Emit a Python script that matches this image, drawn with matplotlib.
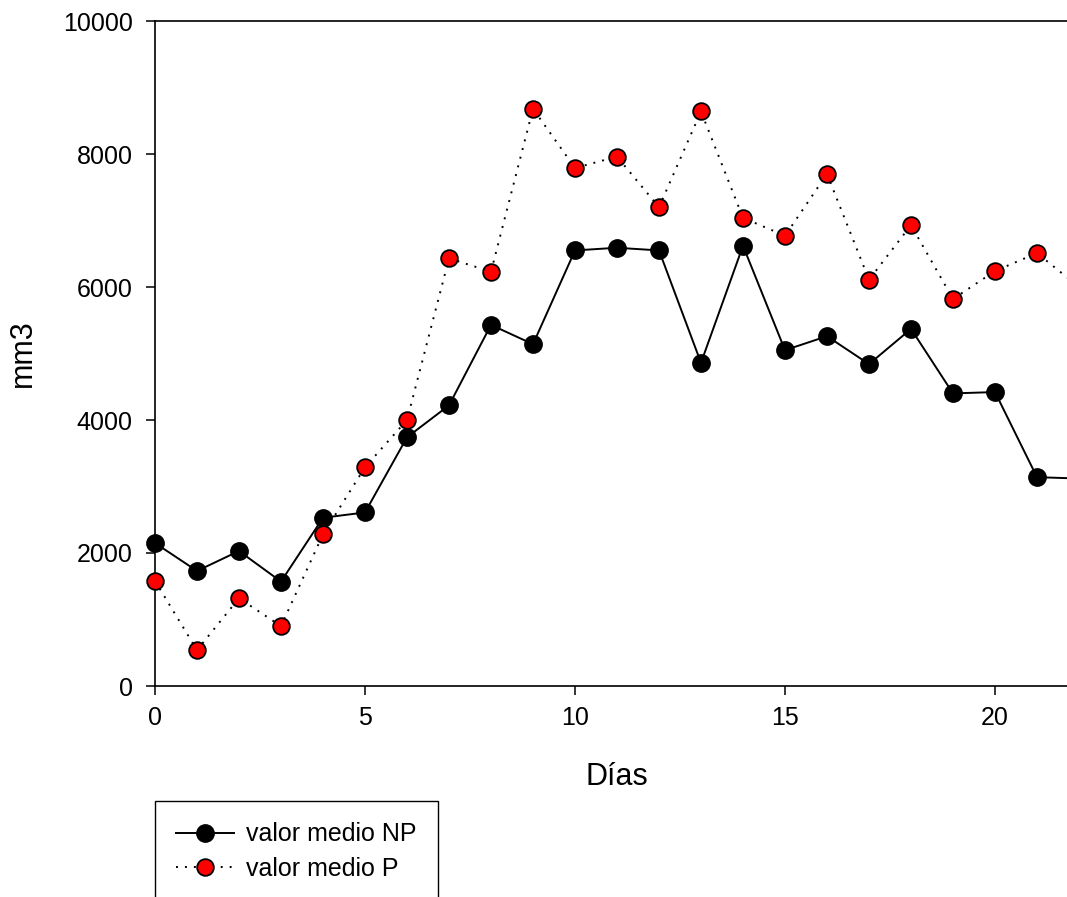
import matplotlib
matplotlib.use('Agg')
import matplotlib.pyplot as plt

plt.rcParams['font.family'] = ['Liberation Sans', 'DejaVu Sans']

dias = list(range(23))
medio_np = [2150, 1730, 2030, 1570, 2530, 2610, 3740, 4220, 5430, 5140,
            6550, 6590, 6550, 4860, 6620, 5050, 5260, 4840, 5370, 4400,
            4420, 3140, 3120]
medio_p = [1580, 540, 1320, 900, 2280, 3290, 4000, 6430, 6230, 8680,
           7790, 7960, 7200, 8640, 7040, 6770, 7700, 6110, 6930, 5820,
           6240, 6510, 6000]

y_ticks = [0, 2000, 4000, 6000, 8000, 10000]
x_ticks = [0, 5, 10, 15, 20]

W, H = 1067, 897
fig = plt.figure(figsize=(W / 100, H / 100), dpi=100)
# axes runs past the right edge of the figure, like the original
ax = fig.add_axes([155 / W, 1 - 686 / H, 924 / W, 665 / H])

ax.plot(dias, medio_np, color='black', lw=1.4, marker='o', markersize=12.5,
        markerfacecolor='black', markeredgecolor='black', markeredgewidth=1,
        label='valor medio NP', clip_on=False, zorder=3)
ax.plot(dias, medio_p, color='black', lw=1.4, linestyle=(0, (1.0, 3.6)),
        marker='o', markersize=12, markerfacecolor='#ff0000',
        markeredgecolor='black', markeredgewidth=1.3,
        label='valor medio P', clip_on=False, zorder=3)

ax.set_xlim(0, 22)
ax.set_ylim(0, 10000)
ax.set_xticks(x_ticks)
ax.set_yticks(y_ticks)
ax.tick_params(direction='out', length=6.5, width=1.1, labelsize=18, pad=8)
ax.tick_params(axis='y', pad=9.5)
for s in ['left', 'bottom', 'top']:
    ax.spines[s].set_linewidth(1.2)
ax.spines['right'].set_visible(False)

ax.set_xlabel('Días', fontsize=22)
ax.set_ylabel('mm3', fontsize=22)
ax.xaxis.set_label_coords(0.5, -0.115)
ax.yaxis.set_label_coords(-0.127, 0.5)

leg = fig.legend(loc='upper left', bbox_to_anchor=(155 / W, 1 - 801 / H),
                 borderaxespad=0, fontsize=18, fancybox=False,
                 edgecolor='black', framealpha=1, handlelength=2.3,
                 handletextpad=0.5, borderpad=0.85, labelspacing=0.42)
leg.get_frame().set_linewidth(1.0)

fig.savefig('out.png', dpi=100)
